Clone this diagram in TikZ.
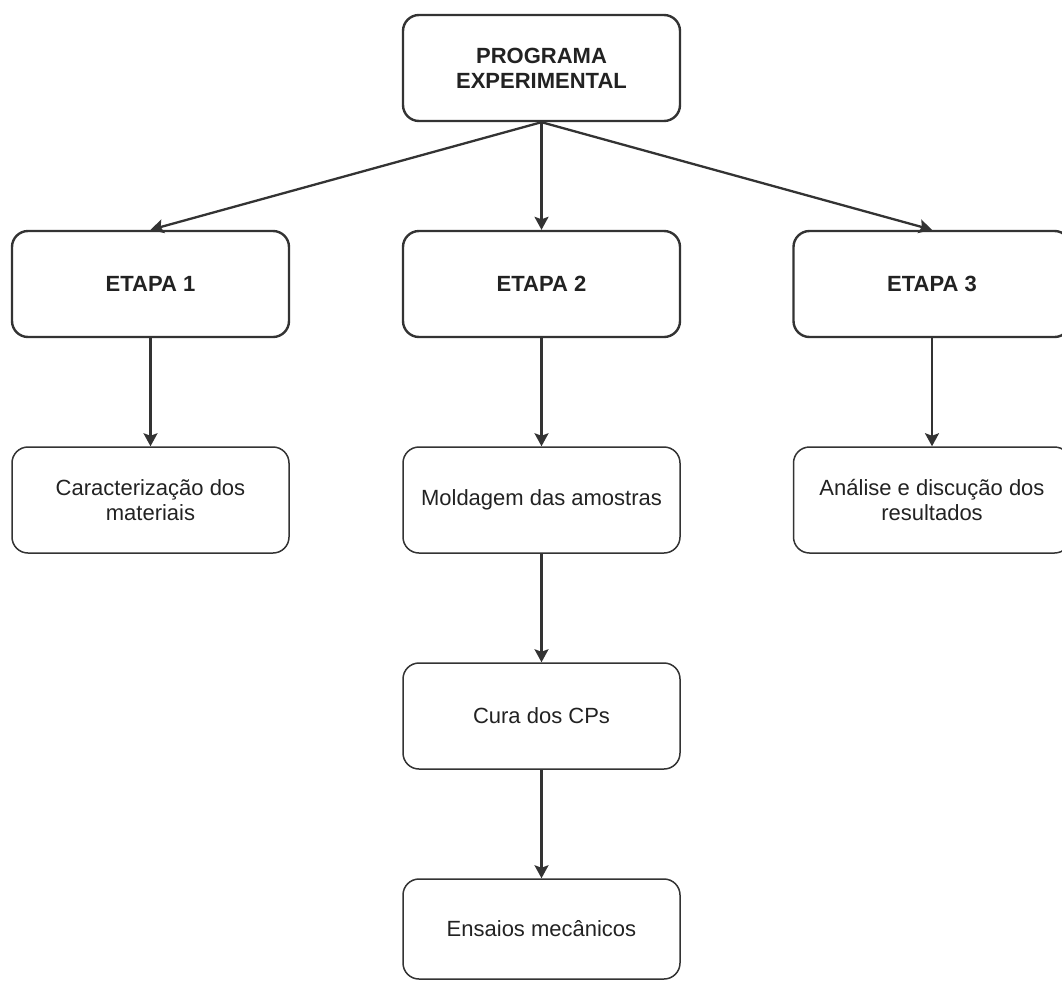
\documentclass[tikz,border=0pt]{standalone}
\usepackage{fontspec}
\setmainfont{Liberation Sans}
\usetikzlibrary{arrows.meta}

\definecolor{linegray}{HTML}{333333}
\definecolor{textgray}{HTML}{222222}

\tikzset{
  etapa/.style={draw=linegray, line width=2.4pt, rounded corners=16pt,
    minimum width=277pt, minimum height=106pt, align=center,
    font=\fontsize{22}{25}\selectfont\bfseries, text=textgray},
  tarefa/.style={etapa, line width=1.5pt, font=\fontsize{22}{25}\selectfont},
  seta/.style={draw=linegray, line width=2.3pt,
    -{Stealth[length=13pt,width=14pt,inset=2.5pt]}}
}

\begin{document}
\begin{tikzpicture}[x=1pt,y=-1pt]
    \useasboundingbox (0,0) rectangle (1062,980);
    \node [etapa] (prog) at (541.5,68) {PROGRAMA\\EXPERIMENTAL};
    \node [etapa] (et1) at (150.5,284) {ETAPA 1};
    \node [etapa] (et2) at (541.5,284) {ETAPA 2};
    \node [etapa] (et3) at (932,284) {ETAPA 3};
    \node [tarefa] (carac) at (150.5,500) {Caracterização dos\\materiais};
    \node [tarefa] (mold) at (541.5,500) {Moldagem das amostras};
    \node [tarefa] (anal) at (932,500) {Análise e discução dos\\resultados};
    \node [tarefa] (cura) at (541.5,716) {Cura dos CPs};
    \node [tarefa, minimum height=100pt] (ens) at (541.5,929) {Ensaios mecânicos};
    \draw [seta] (prog.south) -- (et1.north);
    \draw [seta] (prog.south) -- (et2.north);
    \draw [seta] (prog.south) -- (et3.north);
    \draw [seta] (et1) -- (carac);
    \draw [seta] (et2) -- (mold);
    \draw [seta] (et3) -- (anal);
    \draw [seta] (mold) -- (cura);
    \draw [seta] (cura) -- (ens);
\end{tikzpicture}
\end{document}
